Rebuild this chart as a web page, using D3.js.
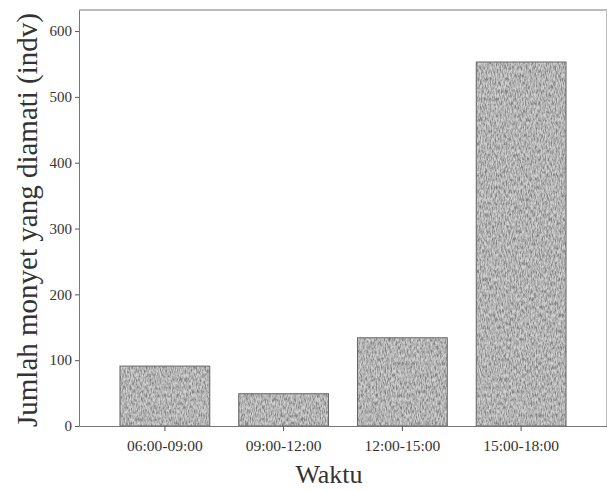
<!DOCTYPE html>
<html>
<head>
<meta charset="utf-8">
<script src="https://cdn.jsdelivr.net/npm/d3@7"></script>
<style>
  body { margin: 0; background: #fff; }
  svg { display: block; }
</style>
</head>
<body>
<svg id="chart"></svg>
<script>
const categories = ['06:00-09:00', '09:00-12:00', '12:00-15:00', '15:00-18:00'];
const counts = [91, 49, 134, 553];
const yticks = [0, 100, 200, 300, 400, 500, 600];

const width = 607, height = 490;
const margin = {top: 10, right: 0, bottom: 64, left: 79};
const inner_width = width - margin.left - margin.right;
const inner_height = height - margin.top - margin.bottom;

const svg = d3.select('#chart')
    .attr('width', width)
    .attr('height', height);

// grainy grey fill like the scanned bars
const defs = svg.append('defs');
const filter = defs.append('filter')
    .attr('id', 'grain')
    .attr('x', 0).attr('y', 0).attr('width', 1).attr('height', 1);
filter.append('feTurbulence')
    .attr('type', 'fractalNoise')
    .attr('baseFrequency', '0.8 0.25')
    .attr('numOctaves', 3)
    .attr('seed', 7)
    .attr('result', 'noise');
filter.append('feColorMatrix')
    .attr('in', 'noise')
    .attr('type', 'matrix')
    .attr('values', '2.2 0 0 0 -0.55  2.2 0 0 0 -0.55  2.2 0 0 0 -0.55  0 0 0 0 0.42')
    .attr('result', 'grey');
filter.append('feComposite')
    .attr('in', 'grey')
    .attr('in2', 'SourceGraphic')
    .attr('operator', 'in')
    .attr('result', 'speck');
filter.append('feMerge').selectAll('feMergeNode')
    .data(['SourceGraphic', 'speck'])
    .join('feMergeNode')
    .attr('in', d => d);

const chart = svg.append('g')
    .attr('transform', `translate(${margin.left}, ${margin.top})`);

const xscale = d3.scaleBand()
    .domain(categories)
    .range([0, inner_width])
    .paddingInner(0.244)
    .paddingOuter(0.345);

const yscale = d3.scaleLinear()
    .domain([0, 632])
    .range([inner_height, 0]);

chart.selectAll('rect.bar')
    .data(counts)
    .join('rect')
    .attr('class', 'bar')
    .attr('x', (d, i) => xscale(categories[i]))
    .attr('y', d => yscale(d))
    .attr('width', xscale.bandwidth())
    .attr('height', d => inner_height - yscale(d))
    .attr('fill', '#a6a6a6')
    .attr('filter', 'url(#grain)');

chart.selectAll('rect.edge')
    .data(counts)
    .join('rect')
    .attr('class', 'edge')
    .attr('x', (d, i) => xscale(categories[i]))
    .attr('y', d => yscale(d))
    .attr('width', xscale.bandwidth())
    .attr('height', d => inner_height - yscale(d))
    .attr('fill', 'none')
    .attr('stroke', '#666')
    .attr('stroke-width', 1);

const xaxis = d3.axisBottom(xscale)
    .tickSize(5)
    .tickSizeOuter(0);

const yaxis = d3.axisLeft(yscale)
    .tickValues(yticks)
    .tickSize(4)
    .tickSizeOuter(0);

const xaxis_group = chart.append('g')
    .attr('transform', `translate(0, ${inner_height})`)
    .call(xaxis);

const yaxis_group = chart.append('g')
    .call(yaxis);

[xaxis_group, yaxis_group].forEach(g => {
    g.select('.domain').attr('stroke', '#777');
    g.selectAll('.tick line').attr('stroke', '#555');
    g.selectAll('.tick text')
        .style('font-family', '"Liberation Serif", serif')
        .attr('fill', '#333');
});
xaxis_group.selectAll('.tick text')
    .style('font-size', '15.5px')
    .attr('y', 25)
    .attr('dy', 0);
yaxis_group.selectAll('.tick text')
    .style('font-size', '15px')
    .attr('x', -7);

// frame on top and right
chart.append('line')
    .attr('x1', 0).attr('x2', inner_width)
    .attr('y1', 0).attr('y2', 0)
    .attr('stroke', '#777');
chart.append('line')
    .attr('x1', inner_width - 0.5).attr('x2', inner_width - 0.5)
    .attr('y1', 0).attr('y2', inner_height)
    .attr('stroke', '#bbb');

svg.append('text')
    .style('font-family', '"Liberation Serif", serif')
    .style('font-size', '26px')
    .attr('fill', '#333')
    .attr('x', 329)
    .attr('y', 483)
    .attr('text-anchor', 'middle')
    .text('Waktu');

svg.append('text')
    .style('font-family', '"Liberation Serif", serif')
    .style('font-size', '29px')
    .attr('fill', '#333')
    .attr('transform', 'translate(37, 220) rotate(-90)')
    .attr('text-anchor', 'middle')
    .text('Jumlah monyet yang diamati (indv)');
</script>
</body>
</html>
